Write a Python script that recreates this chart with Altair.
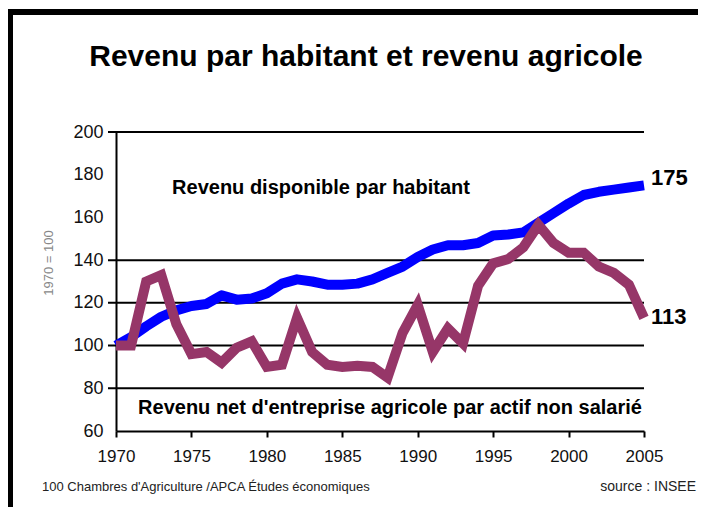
import altair as alt
import pandas as pd

years = list(range(1970, 2006))
revenu_habitant = [100, 104, 109, 113.5, 116.5, 118.5, 119.5, 123.5, 121.5, 122,
                   124.5, 129, 131, 130, 128.5, 128.5, 129, 131, 134, 137,
                   141.5, 145, 147, 147, 148, 151.5, 152, 153, 157.5, 162,
                   166.5, 170.5, 172, 173, 174, 175]
revenu_agricole = [100, 100, 130, 133, 110, 96, 97, 92, 99, 102,
                   90, 91, 113, 97, 91, 90, 90.5, 90, 85, 106,
                   119, 97, 108, 101, 128, 138.5, 140.5, 146, 156.5, 148,
                   143.5, 143.5, 137, 134, 128.5, 113]
y_ticks = [60, 80, 100, 120, 140, 160, 180, 200]
grid_values = [80, 100, 120, 140, 200]
x_ticks = [1970, 1975, 1980, 1985, 1990, 1995, 2000, 2005]

title_text = "Revenu par habitant et revenu agricole"
label_habitant = "Revenu disponible par habitant"
label_agricole = "Revenu net d'entreprise agricole par actif non salarié"
y_title = "1970 = 100"
footer_left = "100  Chambres d'Agriculture  /APCA Études économiques"
footer_right = "source : INSEE"

W, H = 528, 299
SANS = "Liberation Sans, Arial, sans-serif"
BLUE = "#0000ff"
PURPLE = "#963668"

df_h = pd.DataFrame({"year": years, "value": revenu_habitant})
df_a = pd.DataFrame({"year": years, "value": revenu_agricole})
df_grid = pd.DataFrame({"v": grid_values})

xscale = alt.Scale(domain=[1970, 2005], nice=False, zero=False)
yscale = alt.Scale(domain=[60, 200], nice=False, zero=False)

xaxis = alt.Axis(values=x_ticks, format="d", title=None, grid=False,
                 labelFont=SANS, labelFontSize=17, labelColor="#111",
                 labelFlush=False, labelOverlap=False,
                 tickColor="black", tickWidth=2, tickSize=6,
                 domainColor="black", domainWidth=2, labelPadding=11)
yaxis = alt.Axis(values=y_ticks, title=None, grid=False, ticks=False,
                 labelFont=SANS, labelFontSize=18, labelColor="#111",
                 labelFlush=False, labelOverlap=False,
                 domainColor="black", domainWidth=2, labelPadding=13)

X = alt.X("year:Q", scale=xscale, axis=xaxis)
Y = alt.Y("value:Q", scale=yscale, axis=yaxis)

grid = alt.Chart(df_grid).mark_rule(color="black", strokeWidth=2).encode(
    y=alt.Y("v:Q", scale=yscale, axis=yaxis),
    x=alt.value(-8), x2=alt.value(W))

line_h = alt.Chart(df_h).mark_line(color=BLUE, strokeWidth=10, strokeJoin="round").encode(
    x=X, y=Y)

line_a = alt.Chart(df_a).mark_line(color=PURPLE, strokeWidth=10, strokeJoin="miter").encode(
    x=X, y=Y)

end_h = alt.Chart(df_h.tail(1)).mark_text(align="left", baseline="middle", dx=7, dy=-7,
                                         font=SANS, fontSize=22, fontWeight="bold",
                                         color="black").encode(
    x=X, y=Y, text=alt.Text("value:Q", format="d"))
end_a = alt.Chart(df_a.tail(1)).mark_text(align="left", baseline="middle", dx=7, dy=-1,
                                         font=SANS, fontSize=22, fontWeight="bold",
                                         color="black").encode(
    x=X, y=Y, text=alt.Text("value:Q", format="d"))


def txt(t, x, y, **kw):
    return alt.Chart(pd.DataFrame({"t": [t]})).mark_text(**kw).encode(
        x=alt.value(x), y=alt.value(y), text="t:N")


title = txt(title_text, 250, -66, font=SANS, fontSize=30, fontWeight="bold",
            align="center", baseline="alphabetic", color="black")
lab_h = txt(label_habitant, 205, 56, font=SANS, fontSize=20, fontWeight="bold",
            align="center", baseline="middle", color="black")
lab_a = txt(label_agricole, 274, 276, font=SANS, fontSize=20, fontWeight="bold",
            align="center", baseline="middle", color="black")
ytitle = txt(y_title, -67, 131, font=SANS, fontSize=13, angle=270,
             align="center", baseline="middle", color="#888")
foot_l = txt(footer_left, -74, 355, font=SANS, fontSize=13,
             align="left", baseline="middle", color="#222")
foot_r = txt(footer_right, 580, 355, font=SANS, fontSize=14,
             align="right", baseline="middle", color="#222")

frame_left = alt.Chart(df_grid.head(1)).mark_rule(color="black", strokeWidth=6).encode(
    x=alt.value(-106), y=alt.value(-123), y2=alt.value(380))
frame_top = alt.Chart(df_grid.head(1)).mark_rule(color="black", strokeWidth=6).encode(
    x=alt.value(-109), x2=alt.value(590), y=alt.value(-120))

chart = alt.layer(grid, line_h, line_a, end_h, end_a, title, lab_h, lab_a,
                  ytitle, foot_l, foot_r, frame_left, frame_top).properties(
    width=W, height=H,
    autosize=alt.AutoSizeParams(type="none"),
    padding={"left": 108, "top": 124, "right": 54, "bottom": 76},
    background="white",
).configure_view(stroke=None)

chart.save("out.html", embed_options={"renderer": "svg", "actions": False})
